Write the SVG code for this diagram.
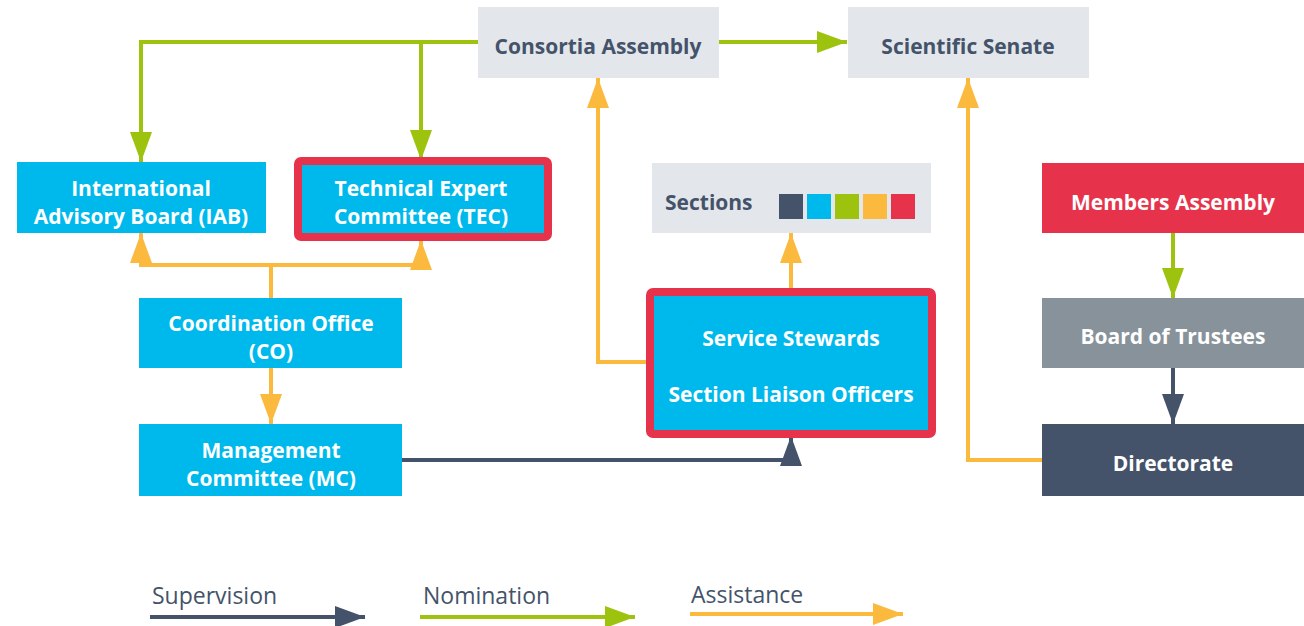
<svg xmlns="http://www.w3.org/2000/svg" width="1304" height="626" viewBox="0 0 1304 626">
<defs>
<style>
.lbl{font-family:"Open Sans","Liberation Sans",sans-serif;font-weight:700;font-size:21px;text-anchor:middle;dominant-baseline:central;fill:#ffffff}
.dk{fill:#44536a}
.leg{font-family:"Open Sans","Liberation Sans",sans-serif;font-size:23px;fill:#44536a}
.blue{fill:#00b9ec}
.grey{fill:#e3e7eb}
.hl{fill:#00b9ec;stroke:#e6334b;stroke-width:8}
.g{fill:none;stroke:#9dc30e;stroke-width:4}
.o{fill:none;stroke:#fbb93e;stroke-width:4}
.s{fill:none;stroke:#44536a;stroke-width:4}
</style>
<marker id="ag" viewBox="0 0 30 22" refX="30" refY="11" markerWidth="30" markerHeight="22" markerUnits="userSpaceOnUse" orient="auto"><path d="M0,0 L30,11 L0,22 Z" fill="#9dc30e"/></marker>
<marker id="ao" viewBox="0 0 30 22" refX="30" refY="11" markerWidth="30" markerHeight="22" markerUnits="userSpaceOnUse" orient="auto"><path d="M0,0 L30,11 L0,22 Z" fill="#fbb93e"/></marker>
<marker id="as" viewBox="0 0 30 22" refX="30" refY="11" markerWidth="30" markerHeight="22" markerUnits="userSpaceOnUse" orient="auto"><path d="M0,0 L30,11 L0,22 Z" fill="#44536a"/></marker>
</defs>
<rect width="1304" height="626" fill="#ffffff"/>
<g id="connectors">
<path class="g" d="M478,42 H141 V162" marker-end="url(#ag)"/>
<path class="g" d="M421,42 V160" marker-end="url(#ag)"/>
<path class="g" d="M719,42 H847" marker-end="url(#ag)"/>
<path class="g" d="M1173,233 V298" marker-end="url(#ag)"/>
<path class="o" d="M271,298 V265 H141 V233" marker-end="url(#ao)"/>
<path class="o" d="M271,265 H421 V240" marker-end="url(#ao)"/>
<path class="o" d="M271,368 V424" marker-end="url(#ao)"/>
<path class="o" d="M646,362 H598 V78" marker-end="url(#ao)"/>
<path class="o" d="M791,288 V233" marker-end="url(#ao)"/>
<path class="o" d="M1042,460 H968 V78" marker-end="url(#ao)"/>
<path class="s" d="M402,460 H791 V436" marker-end="url(#as)"/>
<path class="s" d="M1173,368 V424" marker-end="url(#as)"/>
</g>
<g id="iab"><rect class="blue" x="17" y="162" width="249" height="71"/><text class="lbl" x="141" y="188">International</text><text class="lbl" x="141" y="216">Advisory Board (IAB)</text></g>
<g id="tec"><rect class="hl" x="298" y="161" width="250" height="76" rx="3"/><text class="lbl" x="421" y="188">Technical Expert</text><text class="lbl" x="421" y="216">Committee (TEC)</text></g>
<g id="consortia"><rect class="grey" x="478" y="7" width="241" height="71"/><text class="lbl dk" x="598" y="46">Consortia Assembly</text></g>
<g id="senate"><rect class="grey" x="848" y="7" width="241" height="71"/><text class="lbl dk" x="968" y="46">Scientific Senate</text></g>
<g id="sections"><rect class="grey" x="652" y="163" width="279" height="70"/><text class="lbl dk" x="665" y="202" style="text-anchor:start">Sections</text>
<rect x="779" y="194" width="24" height="25" fill="#44536a"/><rect x="807" y="194" width="24" height="25" fill="#00b9ec"/><rect x="835" y="194" width="24" height="25" fill="#9dc30e"/><rect x="863" y="194" width="24" height="25" fill="#fbb93e"/><rect x="891" y="194" width="24" height="25" fill="#e6334b"/></g>
<g id="members"><rect x="1042" y="163" width="262" height="70" fill="#e6334b"/><text class="lbl" x="1173" y="202">Members Assembly</text></g>
<g id="trustees"><rect x="1042" y="298" width="262" height="70" fill="#87929a"/><text class="lbl" x="1173" y="336">Board of Trustees</text></g>
<g id="directorate"><rect x="1042" y="424" width="262" height="72" fill="#44536a"/><text class="lbl" x="1173" y="463">Directorate</text></g>
<g id="co"><rect class="blue" x="139" y="298" width="263" height="70"/><text class="lbl" x="271" y="323">Coordination Office</text><text class="lbl" x="271" y="351">(CO)</text></g>
<g id="mc"><rect class="blue" x="139" y="424" width="263" height="72"/><text class="lbl" x="271" y="450">Management</text><text class="lbl" x="271" y="478">Committee (MC)</text></g>
<g id="stewards"><rect class="hl" x="650" y="292" width="282" height="142" rx="3"/><text class="lbl" x="791" y="338">Service Stewards</text><text class="lbl" x="791" y="394">Section Liaison Officers</text></g>
<g id="legend">
<text class="leg" x="152" y="604">Supervision</text>
<path class="s" d="M150,617 H365" marker-end="url(#as)"/>
<text class="leg" x="423" y="604">Nomination</text>
<path class="g" d="M420,617 H635" marker-end="url(#ag)"/>
<text class="leg" x="691" y="603">Assistance</text>
<path class="o" d="M690,614 H903" marker-end="url(#ao)"/>
</g>
</svg>
